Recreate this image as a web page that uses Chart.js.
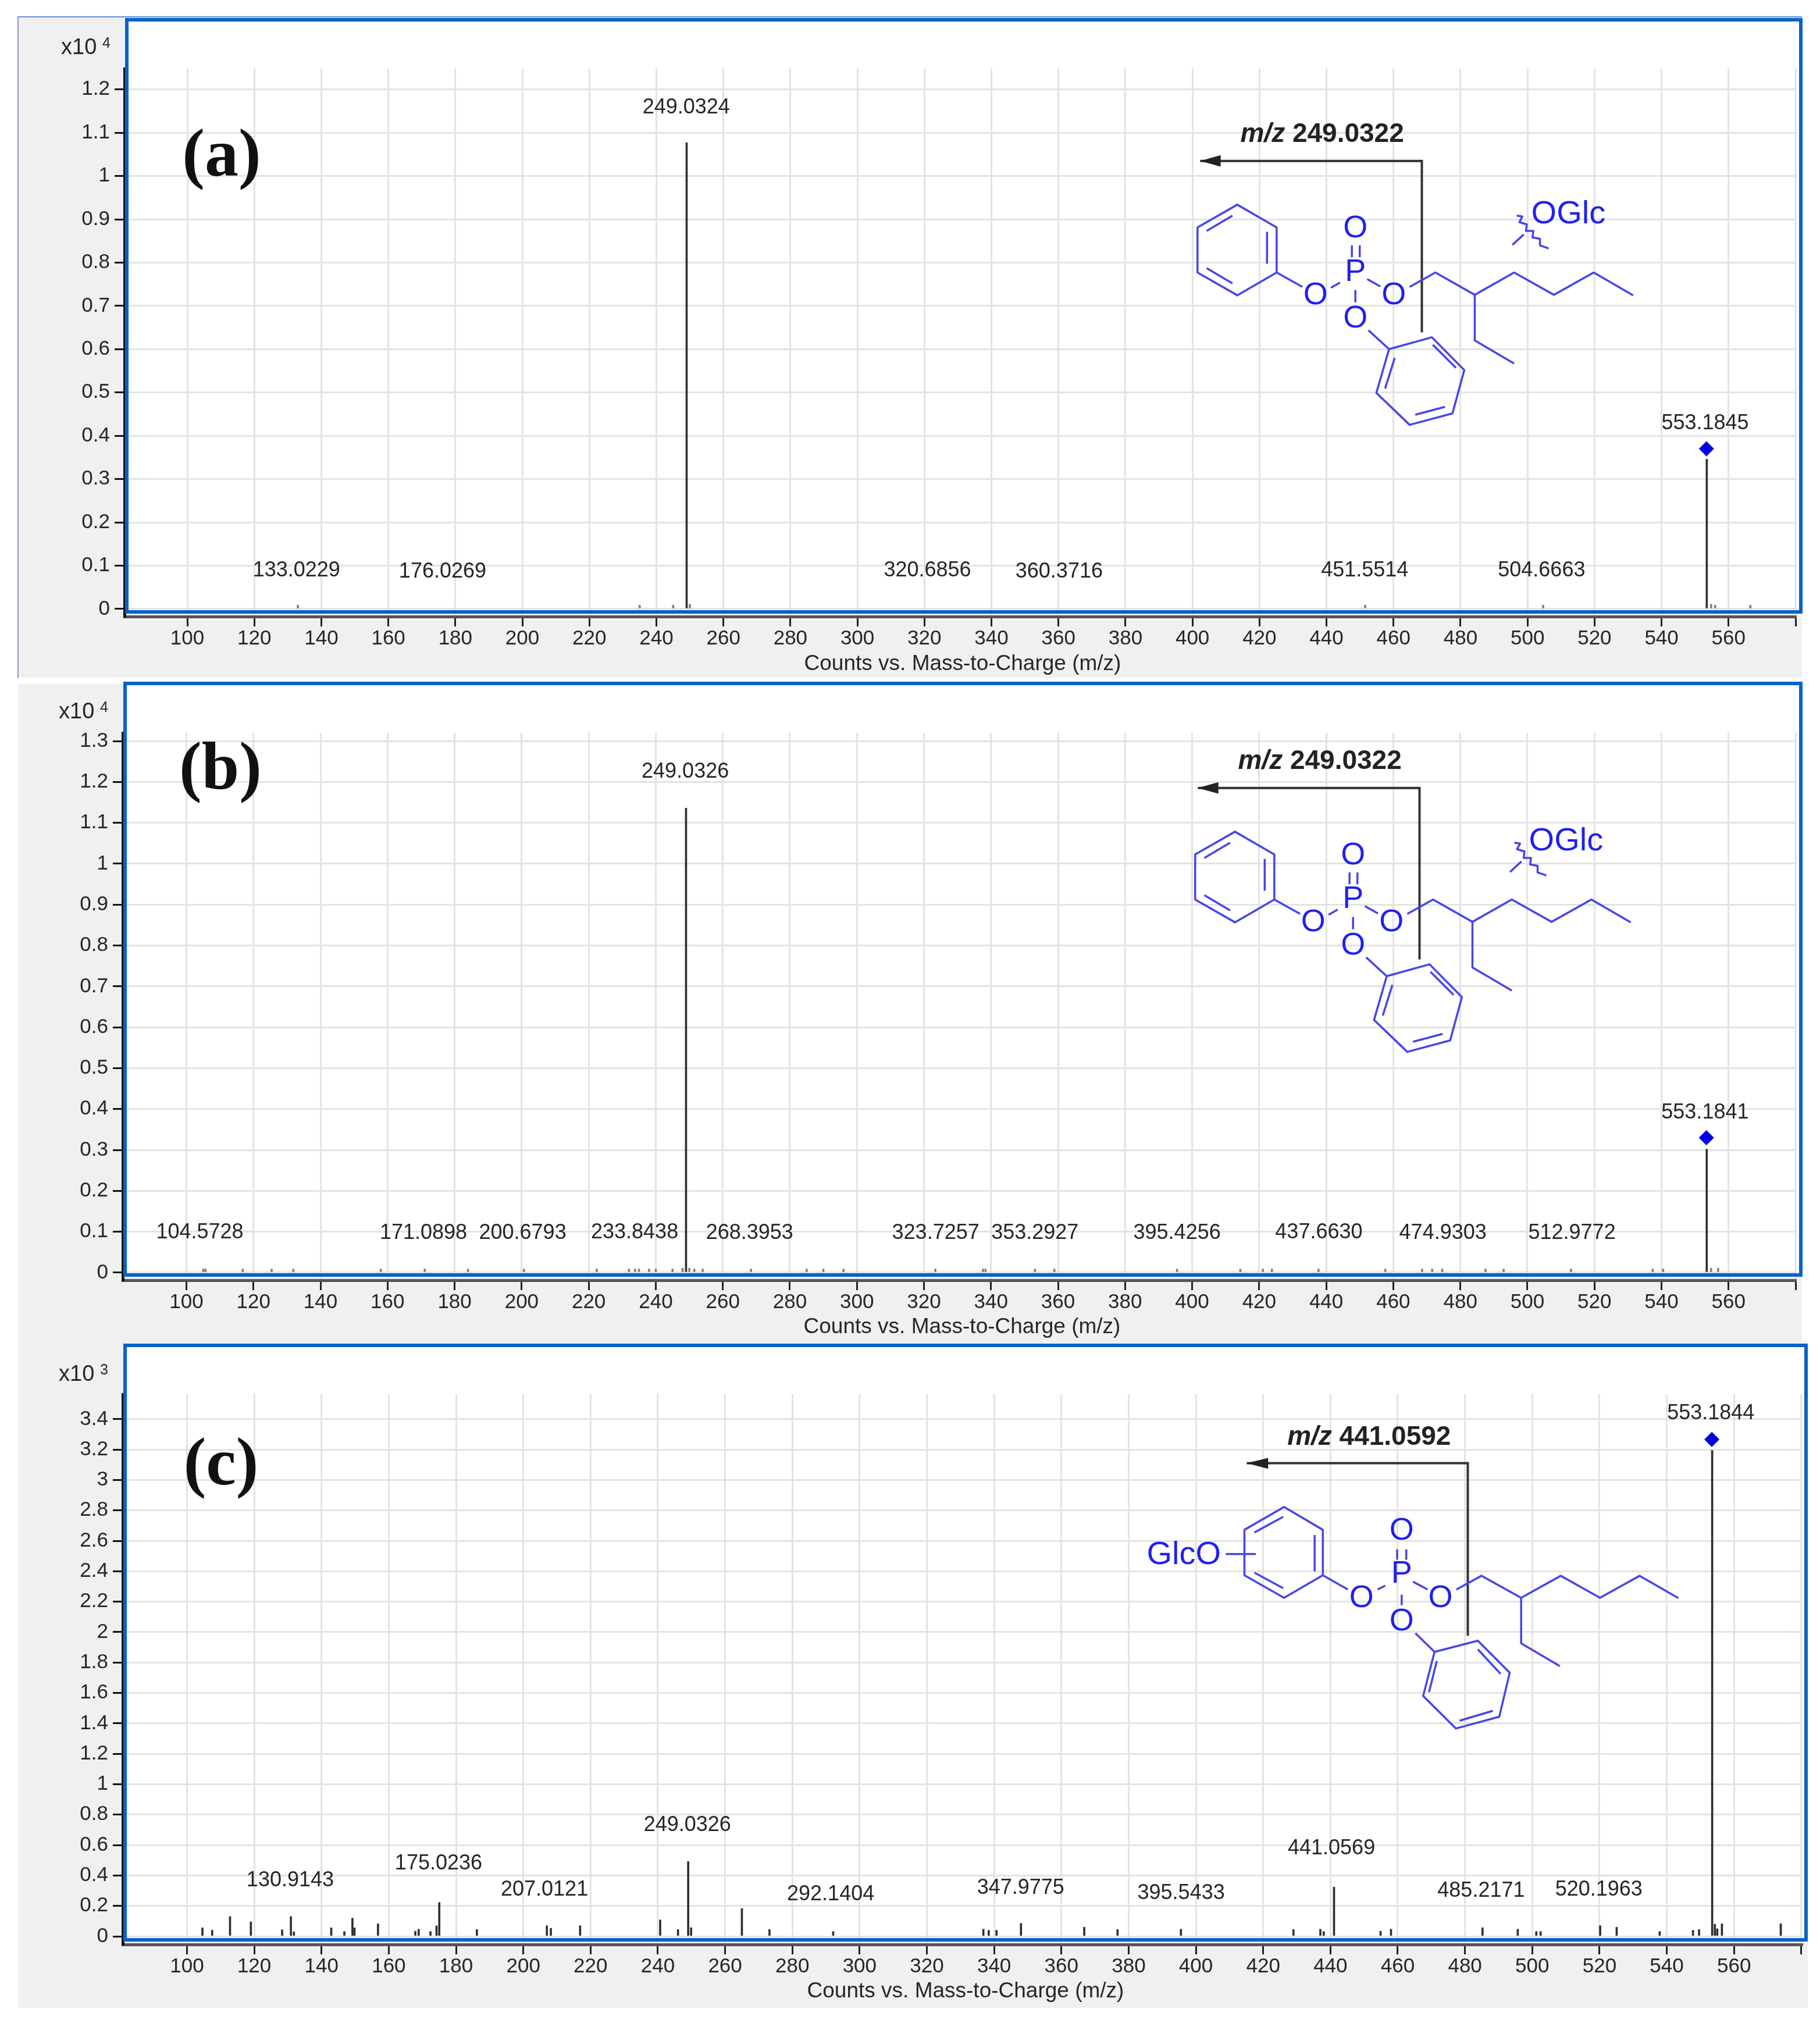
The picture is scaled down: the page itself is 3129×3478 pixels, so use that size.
<!DOCTYPE html>
<html>
<head>
<meta charset="utf-8">
<title>MS/MS spectra</title>
<script src="https://cdn.jsdelivr.net/npm/chart.js@4/dist/chart.umd.min.js"></script>
<style>
    html, body { margin: 0; padding: 0; background: #fff; }
    #page { position: relative; width: 3129px; height: 3478px; overflow: hidden; }
    #page div, #page canvas { position: absolute; box-sizing: border-box; }
</style>
</head>
<body>
<div id="page"></div>
<script>
// Shared axis ticks
const xTicks = [100, 120, 140, 160, 180, 200, 220, 240, 260, 280, 300, 320, 340, 360, 380, 400, 420, 440, 460, 480, 500, 520, 540, 560, 580];
const yTicksA = [0, 0.1, 0.2, 0.3, 0.4, 0.5, 0.6, 0.7, 0.8, 0.9, 1, 1.1, 1.2];
const yTicksB = [0, 0.1, 0.2, 0.3, 0.4, 0.5, 0.6, 0.7, 0.8, 0.9, 1, 1.1, 1.2, 1.3];
const yTicksC = [0, 0.2, 0.4, 0.6, 0.8, 1, 1.2, 1.4, 1.6, 1.8, 2, 2.2, 2.4, 2.6, 2.8, 3, 3.2, 3.4];

// Panel (a) peaks
const mzA = [133.02, 235, 245, 249.03, 250, 451.55, 504.67, 553.5, 554.8, 556, 566.5];
const intensityA = [0.009, 0.009, 0.009, 1.077, 0.011, 0.009, 0.009, 0.346, 0.011, 0.009, 0.009];
const markerA = [553.4, 0.37];
const labelTextA = ['249.0324', '553.1845', '133.0229', '176.0269', '320.6856', '360.3716', '451.5514', '504.6663'];
const labelMzA = [248.9, 553, 132.6, 176.2, 320.9, 360.2, 451.4, 504.2];
const labelYA = [1.161, 0.431, 0.091, 0.088, 0.091, 0.088, 0.091, 0.091];

// Panel (b) peaks
const mzB = [105, 105.7, 116.8, 125.4, 131.9, 158, 171.09, 184, 200.68, 222.4, 232, 233.84, 235, 238, 240, 245, 248, 249.03, 250, 251.5, 254, 268.4, 285, 290, 296, 323.4, 337.6, 338.4, 353.1, 358.9, 395.5, 414.4, 421.1, 423.8, 437.7, 457.6, 468.6, 471.6, 474.6, 487.5, 492.9, 513, 537.4, 540.5, 553.5, 554.8, 556.9];
const intensityB = [0.009, 0.009, 0.009, 0.009, 0.009, 0.009, 0.009, 0.009, 0.009, 0.009, 0.009, 0.009, 0.009, 0.009, 0.009, 0.009, 0.011, 1.136, 0.011, 0.009, 0.009, 0.009, 0.009, 0.009, 0.009, 0.009, 0.009, 0.009, 0.009, 0.009, 0.009, 0.009, 0.009, 0.009, 0.009, 0.009, 0.009, 0.009, 0.009, 0.009, 0.009, 0.009, 0.009, 0.009, 0.302, 0.011, 0.011];
const markerB = [553.4, 0.33];
const labelTextB = ['249.0326', '553.1841', '104.5728', '171.0898', '200.6793', '233.8438', '268.3953', '323.7257', '353.2927', '395.4256', '437.6630', '474.9303', '512.9772'];
const labelMzB = [248.8, 553, 104, 170.7, 200.3, 233.7, 268, 323.5, 353.1, 395.5, 437.8, 474.8, 513.3];
const labelYB = [1.227, 0.394, 0.101, 0.099, 0.099, 0.101, 0.099, 0.099, 0.099, 0.099, 0.101, 0.099, 0.099];

// Panel (c) peaks
const mzC = [104.6, 107.5, 112.8, 119, 128.3, 130.9, 131.8, 142.9, 146.8, 149.2, 149.8, 156.8, 167.9, 168.9, 172.4, 174.2, 175.02, 186.2, 207.01, 208.2, 216.9, 240.7, 246, 249.03, 249.9, 265, 273.2, 292.14, 336.8, 338.4, 340.7, 347.98, 366.8, 376.7, 395.54, 429, 437, 438, 441.06, 454.9, 458, 485.22, 495.7, 501.2, 502.5, 520.2, 525.1, 537.9, 547.8, 549.6, 553.5, 554.3, 555, 556.4, 573.9];
const intensityC = [0.056, 0.041, 0.13, 0.095, 0.043, 0.13, 0.03, 0.056, 0.032, 0.12, 0.056, 0.083, 0.034, 0.047, 0.032, 0.069, 0.223, 0.045, 0.07, 0.053, 0.07, 0.108, 0.045, 0.492, 0.057, 0.183, 0.045, 0.032, 0.047, 0.04, 0.04, 0.085, 0.06, 0.045, 0.047, 0.045, 0.047, 0.032, 0.324, 0.034, 0.047, 0.057, 0.047, 0.032, 0.032, 0.07, 0.06, 0.032, 0.04, 0.045, 3.195, 0.08, 0.05, 0.083, 0.083];
const markerC = [553.4, 3.267];
const labelTextC = ['249.0326', '553.1844', '130.9143', '175.0236', '207.0121', '292.1404', '347.9775', '395.5433', '441.0569', '485.2171', '520.1963'];
const labelMzC = [248.8, 553.1, 130.7, 174.8, 206.3, 291.4, 347.9, 395.6, 440.3, 484.8, 519.8];
const labelYC = [0.738, 3.447, 0.374, 0.485, 0.315, 0.282, 0.324, 0.29, 0.585, 0.306, 0.315];

const AXIS_FONT = 'Liberation Sans';
const TEXT_COLOR = '#262626';
const BLUE_BOX = '#0563c8';
const BLUE_INK = '#2020ee';
const BLUE_BOND = '#4545ea';

// Molecule drawing, in crop coordinates (see the view transform per panel)
const STRUCT_AB = {
    rings: [
        [[233, 465], [323, 517], [323, 620], [233, 672], [142, 620], [142, 517]],
        [[580, 795], [678, 768], [752, 843], [725, 942], [627, 968], [551, 895]]
    ],
    bonds: [
        [[301, 527], [301, 600]], [[163, 525], [222, 490]], [[163, 610], [222, 645]],
        [[323, 620], [382, 653]], [[447, 655], [468, 643]],
        [[495, 558], [495, 585]], [[513, 558], [513, 585]],
        [[530, 635], [560, 652]], [[627, 653], [686, 620], [776, 671], [866, 620], [957, 671], [1048, 620], [1138, 672]],
        [[776, 671], [776, 775], [866, 828]],
        [[503, 660], [503, 688]], [[533, 752], [580, 795]],
        [[593, 815], [571, 885]], [[680, 785], [733, 838]], [[640, 945], [708, 927]],
        [[862, 557], [888, 533]],
        [[872, 490], [885, 492], [878, 505], [895, 510], [893, 525], [910, 525], [908, 540], [925, 543], [925, 558], [945, 565]]
    ],
    atoms: [['O', 412, 670], ['P', 503, 617], ['O', 503, 517], ['O', 591, 670], ['O', 503, 723]],
    labels: [['OGlc', 990, 485]],
    arrow: { tip: [148, 365], head: [195, 352, 195, 378], corner: [655, 365], end: [655, 757] },
    note: [240, 305]
};
const STRUCT_C = {
    rings: [
        [[390, 647], [475, 735], [475, 910], [390, 997], [303, 910], [303, 735]],
        [[720, 1205], [815, 1162], [885, 1285], [862, 1455], [767, 1500], [695, 1375]]
    ],
    bonds: [
        [[325, 745], [388, 685]], [[457, 755], [457, 895]], [[325, 900], [388, 960]],
        [[475, 910], [530, 965]], [[595, 965], [612, 950]],
        [[638, 810], [638, 850]], [[658, 810], [658, 850]],
        [[673, 935], [705, 965]], [[768, 965], [823, 912], [910, 997], [997, 912], [1083, 997], [1170, 912], [1255, 998]],
        [[910, 997], [910, 1172], [995, 1260]],
        [[648, 985], [648, 1025]], [[678, 1133], [720, 1205]],
        [[725, 1240], [708, 1360]], [[815, 1195], [865, 1290]], [[775, 1470], [848, 1432]],
        [[262, 828], [328, 828]]
    ],
    atoms: [['O', 560, 995], ['P', 648, 900], ['O', 648, 735], ['O', 733, 995], ['O', 648, 1085]],
    labels: [['GlcO', 170, 828]],
    arrow: { tip: [308, 478], head: [355, 458, 355, 500], corner: [793, 478], end: [793, 1143] },
    note: [397, 380]
};

// Frame and plot geometry of each panel, page pixels
const PANELS = [
    {
        tag: '(a)', tagPos: [381, 272], exp: '4', expPos: [105, 83], note: '249.0322', titlePos: [1655, 1142],
        gray: [32, 30, 3098, 1165], box: [218, 34, 3096, 1052],
        plot: { left: 214, top: 118, right: 3087, zero: 1047, axis: 1060, xMin: 81.25, xMax: 580, yMin: -0.0175, yMax: 1.248 },
        yTicks: yTicksA, mz: mzA, intensity: intensityA, marker: markerA,
        labelText: labelTextA, labelMz: labelMzA, labelY: labelYA,
        struct: STRUCT_AB, view: [1952, 2, 1.33, 1.329]
    },
    {
        tag: '(b)', tagPos: [379, 1326], exp: '4', expPos: [101, 1225], note: '249.0322', titlePos: [1654, 2282],
        gray: [31, 1176, 3098, 2306], box: [215, 1175, 3096, 2192],
        plot: { left: 211, top: 1260, right: 3087, zero: 2188, axis: 2201, xMin: 81, xMax: 580, yMin: -0.0185, yMax: 1.32 },
        yTicks: yTicksB, mz: mzB, intensity: intensityB, marker: markerB,
        labelText: labelTextB, labelMz: labelMzB, labelY: labelYB,
        struct: STRUCT_AB, view: [1948, 1080, 1.33, 1.329]
    },
    {
        tag: '(c)', tagPos: [380, 2522], exp: '3', expPos: [101, 2364], note: '441.0592', titlePos: [1660, 3424],
        gray: [31, 2306, 3108, 3452], box: [215, 2313, 3105, 3335],
        plot: { left: 211, top: 2397, right: 3098, zero: 3329, axis: 3343, xMin: 80.9, xMax: 580.2, yMin: -0.0535, yMax: 3.564 },
        yTicks: yTicksC, mz: mzC, intensity: intensityC, marker: markerC,
        labelText: labelTextC, labelMz: labelMzC, labelY: labelYC,
        struct: STRUCT_C, view: [1902, 2302, 1.276, 2.24]
    }
];

function drawStructure(ctx, panel) {
    const [ox, oy, sx, sy] = panel.view;
    const top = panel.gray[1];
    const X = x => ox + x / sx;
    const Y = y => oy + y / sy - top;
    const s = panel.struct;
    const path = (pts, close) => {
        ctx.beginPath();
        pts.forEach((p, i) => i ? ctx.lineTo(X(p[0]), Y(p[1])) : ctx.moveTo(X(p[0]), Y(p[1])));
        if (close) ctx.closePath();
        ctx.stroke();
    };
    ctx.save();

    // fragmentation arrow sits behind the bonds
    ctx.strokeStyle = '#333';
    ctx.fillStyle = '#222';
    ctx.lineWidth = 4;
    path([s.arrow.end, s.arrow.corner, s.arrow.tip]);
    ctx.beginPath();
    ctx.moveTo(X(s.arrow.tip[0]), Y(s.arrow.tip[1]));
    ctx.lineTo(X(s.arrow.head[0]), Y(s.arrow.head[1]));
    ctx.lineTo(X(s.arrow.head[2]), Y(s.arrow.head[3]));
    ctx.closePath();
    ctx.fill();

    ctx.textBaseline = 'middle';
    ctx.textAlign = 'left';
    ctx.font = `italic bold 46px "${AXIS_FONT}"`;
    const nx = X(s.note[0]), ny = Y(s.note[1]);
    ctx.fillText('m/z', nx, ny);
    const w = ctx.measureText('m/z ').width;
    ctx.font = `bold 46px "${AXIS_FONT}"`;
    ctx.fillText(panel.note, nx + w, ny);

    ctx.strokeStyle = BLUE_BOND;
    ctx.lineWidth = 3.5;
    ctx.lineJoin = 'round';
    s.rings.forEach(r => path(r, true));
    s.bonds.forEach(b => path(b));

    ctx.fillStyle = BLUE_INK;
    ctx.textAlign = 'center';
    ctx.font = `54px "${AXIS_FONT}"`;
    s.atoms.forEach(a => ctx.fillText(a[0], X(a[1]), Y(a[2]) + 2));
    ctx.font = `56px "${AXIS_FONT}"`;
    s.labels.forEach(l => ctx.fillText(l[0], X(l[1]), Y(l[2]) + 2));
    ctx.restore();
}

// Free floating peak annotations, scale label, panel tag and molecule
const annotationPlugin = {
    id: 'annotations',
    afterDatasetsDraw(chart, args, opts) {
        const panel = opts.panel;
        const top = panel.gray[1];
        const ctx = chart.ctx;
        const x = chart.scales.x, y = chart.scales.y;
        ctx.save();
        ctx.fillStyle = TEXT_COLOR;
        ctx.textAlign = 'center';
        ctx.textBaseline = 'middle';
        ctx.font = `36px "${AXIS_FONT}"`;
        panel.labelText.forEach((t, i) => {
            ctx.fillText(t, x.getPixelForValue(panel.labelMz[i]), y.getPixelForValue(panel.labelY[i]) + 2);
        });

        ctx.font = `37px "${AXIS_FONT}"`;
        ctx.fillText('Counts vs. Mass-to-Charge (m/z)', panel.titlePos[0], panel.titlePos[1] - top);

        ctx.textAlign = 'left';
        ctx.font = `38px "${AXIS_FONT}"`;
        ctx.fillText('x10', panel.expPos[0], panel.expPos[1] - top);
        ctx.font = `25px "${AXIS_FONT}"`;
        ctx.fillText(panel.exp, panel.expPos[0] + 71, panel.expPos[1] - 8 - top);

        ctx.fillStyle = '#111';
        ctx.textAlign = 'center';
        ctx.font = `bold 116px "Liberation Serif"`;
        ctx.fillText(panel.tag, panel.tagPos[0], panel.tagPos[1] - top);
        ctx.restore();

        drawStructure(ctx, panel);
    }
};

function addDiv(page, l, t, w, h, css) {
    const d = document.createElement('div');
    d.style.cssText = `left:${l}px;top:${t}px;width:${w}px;height:${h}px;${css}`;
    page.appendChild(d);
    return d;
}

function makePanel(page, panel) {
    const [gl, gt, gr, gb] = panel.gray;
    const [bl, bt, br, bb] = panel.box;
    const p = panel.plot;
    addDiv(page, gl, gt, gr - gl, gb - gt, 'background:#f0f0f0;');
    addDiv(page, bl, bt, br - bl, bb - bt, 'background:#fff;');

    const canvas = document.createElement('canvas');
    canvas.width = 3129;
    canvas.height = gb - gt;
    canvas.style.cssText = `left:0;top:${gt}px;width:3129px;height:${gb - gt}px;`;
    page.appendChild(canvas);

    // blue frame goes over the grid line ends
    addDiv(page, bl - 3, bt - 3, br - bl + 6, bb - bt + 6, `border:6px solid ${BLUE_BOX};`);

    new Chart(canvas, {
        type: 'bar',
        data: {
            datasets: [
                {
                    type: 'scatter',
                    data: [{ x: panel.marker[0], y: panel.marker[1] }],
                    pointStyle: 'rectRot',
                    pointRadius: 13,
                    backgroundColor: '#0000e6',
                    borderWidth: 0
                },
                {
                    data: panel.mz.map((m, i) => ({ x: m, y: panel.intensity[i] })),
                    // the tiny noise peaks come out washed out in (a) and (b)
                    backgroundColor: panel.intensity.map(v => (v < 0.02 ? '#808080' : '#303030')),
                    barThickness: 3
                }
            ]
        },
        options: {
            responsive: false,
            animation: false,
            layout: {
                autoPadding: false,
                padding: { left: 0, top: p.top - gt, right: 3129 - p.right, bottom: 0 }
            },
            plugins: {
                legend: { display: false },
                tooltip: { enabled: false },
                annotations: { panel: panel }
            },
            scales: {
                x: {
                    type: 'linear',
                    min: p.xMin,
                    max: p.xMax,
                    offset: false,
                    afterBuildTicks: axis => { axis.ticks = xTicks.map(v => ({ value: v })); },
                    afterFit: axis => { axis.height = gb - p.axis; },
                    grid: { offset: false, color: '#e3e3e3', lineWidth: 3, tickColor: '#222', tickWidth: 3, tickLength: 17 },
                    border: { color: '#555', width: 5 },
                    ticks: {
                        autoSkip: false,
                        maxRotation: 0,
                        padding: 0,
                        color: TEXT_COLOR,
                        font: { family: AXIS_FONT, size: 35 },
                        callback: v => (v === 580 ? '' : String(v))
                    }
                },
                y: {
                    min: p.yMin,
                    max: p.yMax,
                    afterBuildTicks: axis => { axis.ticks = panel.yTicks.map(v => ({ value: v })); },
                    afterFit: axis => { axis.width = p.left; },
                    grid: { color: '#e3e3e3', lineWidth: 3, tickColor: '#111', tickWidth: 3, tickLength: 17 },
                    border: { color: '#111', width: 5 },
                    ticks: {
                        autoSkip: false,
                        padding: 8,
                        color: TEXT_COLOR,
                        font: { family: AXIS_FONT, size: 35 },
                        callback: v => String(v)
                    }
                }
            }
        },
        plugins: [annotationPlugin]
    });
}

const page = document.getElementById('page');
// thin window edge on the first screenshot
addDiv(page, 30, 28, 3068, 1138, 'border-left:2px solid #8f8fd6;border-top:2px solid #5f8fd6;');
PANELS.forEach(panel => makePanel(page, panel));
</script>
</body>
</html>
